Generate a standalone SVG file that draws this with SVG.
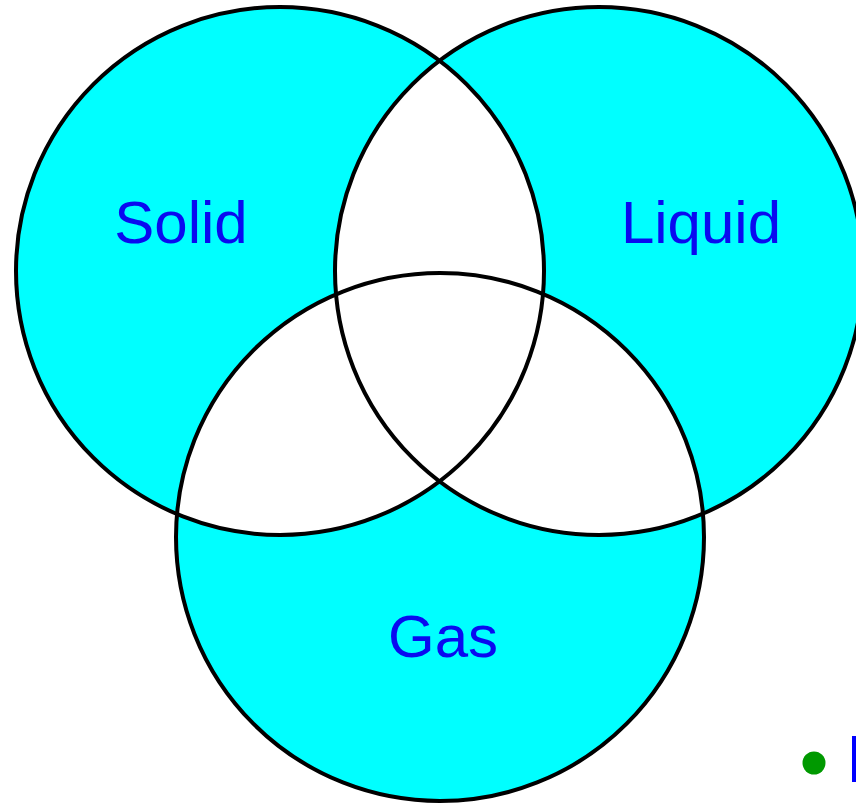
<svg xmlns="http://www.w3.org/2000/svg" width="856" height="806" viewBox="0 0 856 806">
  <style>
    .fill { fill: #00FFFF; stroke: none; }
    .white { fill: #FFFFFF; stroke: none; }
    .ring { fill: none; stroke: #000000; stroke-width: 4; }
    .label { font-family: "Liberation Sans", Arial, sans-serif; font-size: 60px; fill: #0A0AF0; text-anchor: middle; }
  </style>
  <defs>
    <clipPath id="clipSolid"><circle cx="280" cy="271" r="264"/></clipPath>
    <clipPath id="clipLiquid"><circle cx="599" cy="271" r="264"/></clipPath>
  </defs>
  <rect x="0" y="0" width="856" height="806" fill="#FFFFFF"/>
  <g id="fills">
    <circle class="fill" cx="280" cy="271" r="264"/>
    <circle class="fill" cx="599" cy="271" r="264"/>
    <circle class="fill" cx="440" cy="537" r="264"/>
    <circle class="white" cx="599" cy="271" r="264" clip-path="url(#clipSolid)"/>
    <circle class="white" cx="440" cy="537" r="264" clip-path="url(#clipSolid)"/>
    <circle class="white" cx="440" cy="537" r="264" clip-path="url(#clipLiquid)"/>
  </g>
  <g id="solid">
    <circle class="ring" cx="280" cy="271" r="264"/>
    <text class="label" x="181" y="243">Solid</text>
  </g>
  <g id="liquid">
    <circle class="ring" cx="599" cy="271" r="264"/>
    <text class="label" x="701" y="243">Liquid</text>
  </g>
  <g id="gas">
    <circle class="ring" cx="440" cy="537" r="264"/>
    <text class="label" x="443" y="657">Gas</text>
  </g>
  <g id="bullet">
    <circle cx="814" cy="763" r="11.5" fill="#009900"/>
    <rect x="852" y="736" width="4" height="46" fill="#0000FF"/>
  </g>
</svg>
